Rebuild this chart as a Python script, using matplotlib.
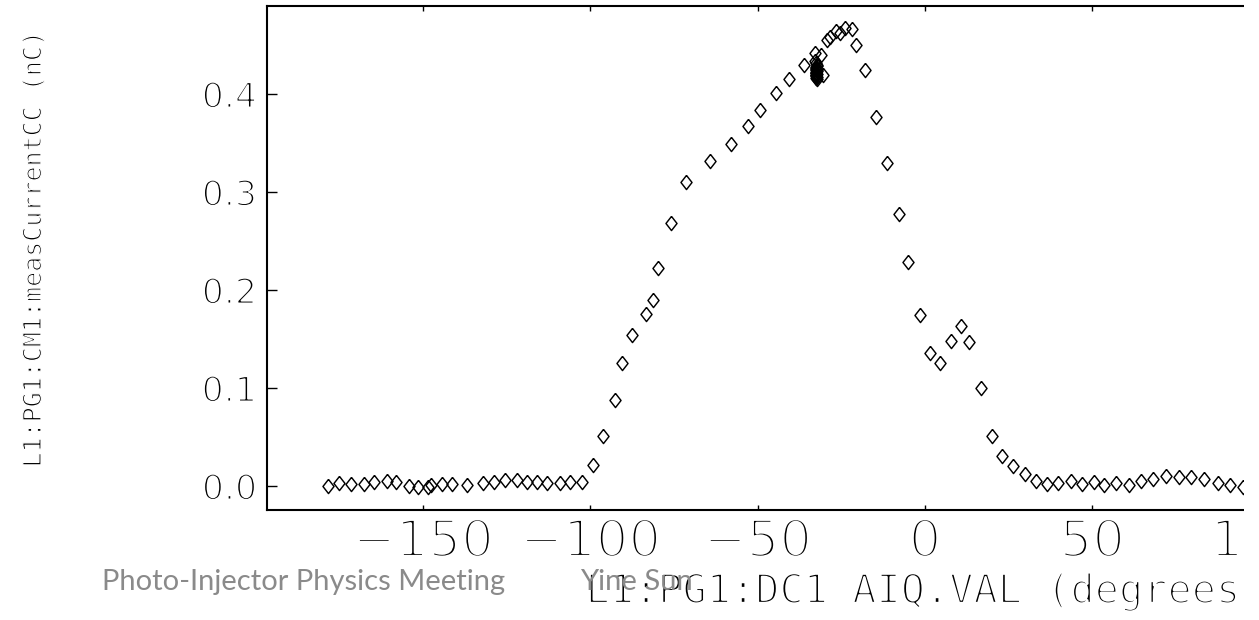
import matplotlib
matplotlib.use("Agg")
import matplotlib.pyplot as plt
import matplotlib.patheffects as pe
from matplotlib.patches import Rectangle

# ---- data ----
phase_deg = [-178.6, -175.2, -171.7, -167.6, -164.6, -160.9, -158.0, -154.3, -151.7, -148.7,
             -147.7, -144.5, -141.3, -136.8, -132.2, -128.8, -125.6, -122.1, -119.1, -115.9,
             -112.9, -109.1, -106.1, -102.4,
             -99.2, -96.4, -92.7, -90.5, -87.7, -83.5, -81.2, -79.9, -75.9, -71.4,
             -64.4, -58.0, -53.0, -49.3, -44.6, -40.6, -36.3, -32.9, -31.0, -30.4,
             -29.4, -28.3, -26.7, -25.3, -24.0, -21.9, -20.6, -17.8, -14.6, -11.5,
             -7.8, -5.0, -1.6, 1.6, 4.6, 7.7, 10.9, 13.3, 16.8, 20.0,
             23.0, 26.4, 29.9, 33.1, 36.6, 39.8, 43.5, 46.8, 50.5, 53.4,
             57.1, 60.9, 64.6, 68.1, 72.1, 75.8, 79.6, 83.3, 87.6, 91.3, 95.0]
charge_nC = [0.0003, 0.0028, 0.0017, 0.0017, 0.0044, 0.0051, 0.0038, 0.0, -0.0013, -0.0007,
             0.001, 0.0017, 0.0017, 0.001, 0.0034, 0.0044, 0.0061, 0.0061, 0.0044, 0.0044,
             0.0028, 0.0028, 0.0038, 0.0044,
             0.021, 0.051, 0.088, 0.125, 0.154, 0.176, 0.190, 0.222, 0.268, 0.310,
             0.332, 0.349, 0.367, 0.384, 0.401, 0.415, 0.430, 0.442, 0.440, 0.419,
             0.455, 0.458, 0.464, 0.462, 0.467, 0.466, 0.450, 0.425, 0.377, 0.330,
             0.278, 0.229, 0.174, 0.136, 0.125, 0.148, 0.163, 0.147, 0.100, 0.051,
             0.031, 0.020, 0.012, 0.005, 0.002, 0.003, 0.005, 0.002, 0.004, 0.001,
             0.003, 0.001, 0.005, 0.007, 0.010, 0.009, 0.009, 0.007, 0.003, 0.001, -0.001]
# repeated measurements at the nominal phase (dense cluster)
cluster_deg = [-32.8, -32.6, -32.4, -32.7, -32.5, -32.3, -32.6, -32.4, -32.5, -32.7,
               -32.2, -32.5, -32.6, -32.4, -32.5, -32.7, -32.3, -32.5, -32.6, -32.4]
cluster_nC = [0.434, 0.432, 0.430, 0.428, 0.427, 0.425, 0.424, 0.423, 0.422, 0.421,
              0.420, 0.419, 0.418, 0.417, 0.416, 0.426, 0.429, 0.421, 0.419, 0.415]

xticks = [-150, -100, -50, 0, 50, 100, 150]
yticks = [0.0, 0.1, 0.2, 0.3, 0.4]
xlabel = "L1:PG1:DC1 AIQ.VAL (degrees)"
ylabel = "L1:PG1:CM1:measCurrentCC (nC)"
footer_left = "Photo-Injector Physics Meeting"
footer_mid = "Yine Sun"

mono = "DejaVu Sans Mono"
num_font = "DejaVu Sans"

# ---- figure ----
W, H = 1259, 620
fig = plt.figure(figsize=(W / 100, H / 100), dpi=100)
ax_l, ax_r, ax_t, ax_b = 267, 1583, 6, 510
ax = fig.add_axes([ax_l / W, (H - ax_b) / H, (ax_r - ax_l) / W, (ax_b - ax_t) / H])

diamond = [(0, 1), (0.78, 0), (0, -1), (-0.78, 0), (0, 1)]
mk = dict(marker=diamond, markersize=10.2, markerfacecolor="none",
          markeredgecolor="black", markeredgewidth=1.05, linestyle="none")
ax.plot(phase_deg, charge_nC, **mk)
ax.plot(cluster_deg, cluster_nC, **mk)

ax.set_xlim(-196.7, 196.7)
ax.set_ylim(-0.0245, 0.4898)
ax.set_xticks(xticks)
ax.set_yticks(yticks)
ax.set_xticklabels([("\u2212%d" % -v) if v < 0 else "%d" % v for v in xticks])
ax.set_yticklabels(["%.1f" % v for v in yticks])


def thin(lw):
    # erode the glyph outlines so the text looks like the thin plotter font
    return [pe.Stroke(linewidth=lw, foreground="white", joinstyle="round")]


ax.tick_params(axis="x", direction="in", length=3.6, width=1.0, top=True, bottom=True,
               pad=5.5, labelsize=37)
ax.tick_params(axis="y", direction="in", length=7.2, width=1.0, left=True, right=False,
               pad=7.2, labelsize=25)
for lab in ax.get_xticklabels():
    lab.set_family(num_font)
    lab.set_path_effects(thin(2.5))
for lab in ax.get_yticklabels():
    lab.set_family(num_font)
    lab.set_path_effects(thin(1.4))
for s in ["left", "top", "bottom"]:
    ax.spines[s].set_linewidth(1.5)
ax.spines["right"].set_visible(False)

ax.set_xlabel(xlabel, family=mono, fontsize=29, va="baseline",
              path_effects=thin(1.7))
ax.xaxis.set_label_coords(0.5, -(603 - ax_b) / (ax_b - ax_t))
ax.set_ylabel(ylabel, family=mono, fontsize=18, va="center", ha="center",
              path_effects=thin(0.9))
ax.yaxis.set_label_coords((34 - ax_l) / (ax_r - ax_l), (ax_b - 250) / (ax_b - ax_t))

# the screenshot is cropped on the right
fig.patches.append(Rectangle((1244 / W, 0), 1, 1, transform=fig.transFigure,
                             facecolor="white", edgecolor="none", zorder=10))

gray = "#8a8a8a"
fig.text(505 / W, 1 - 590 / H, footer_left, family="Lato", fontsize=21, color=gray,
         ha="right", va="baseline", zorder=11)
fig.text(580 / W, 1 - 590 / H, footer_mid, family="Lato", fontsize=21, color=gray,
         ha="left", va="baseline", zorder=11)

fig.savefig("out.png", dpi=100)
